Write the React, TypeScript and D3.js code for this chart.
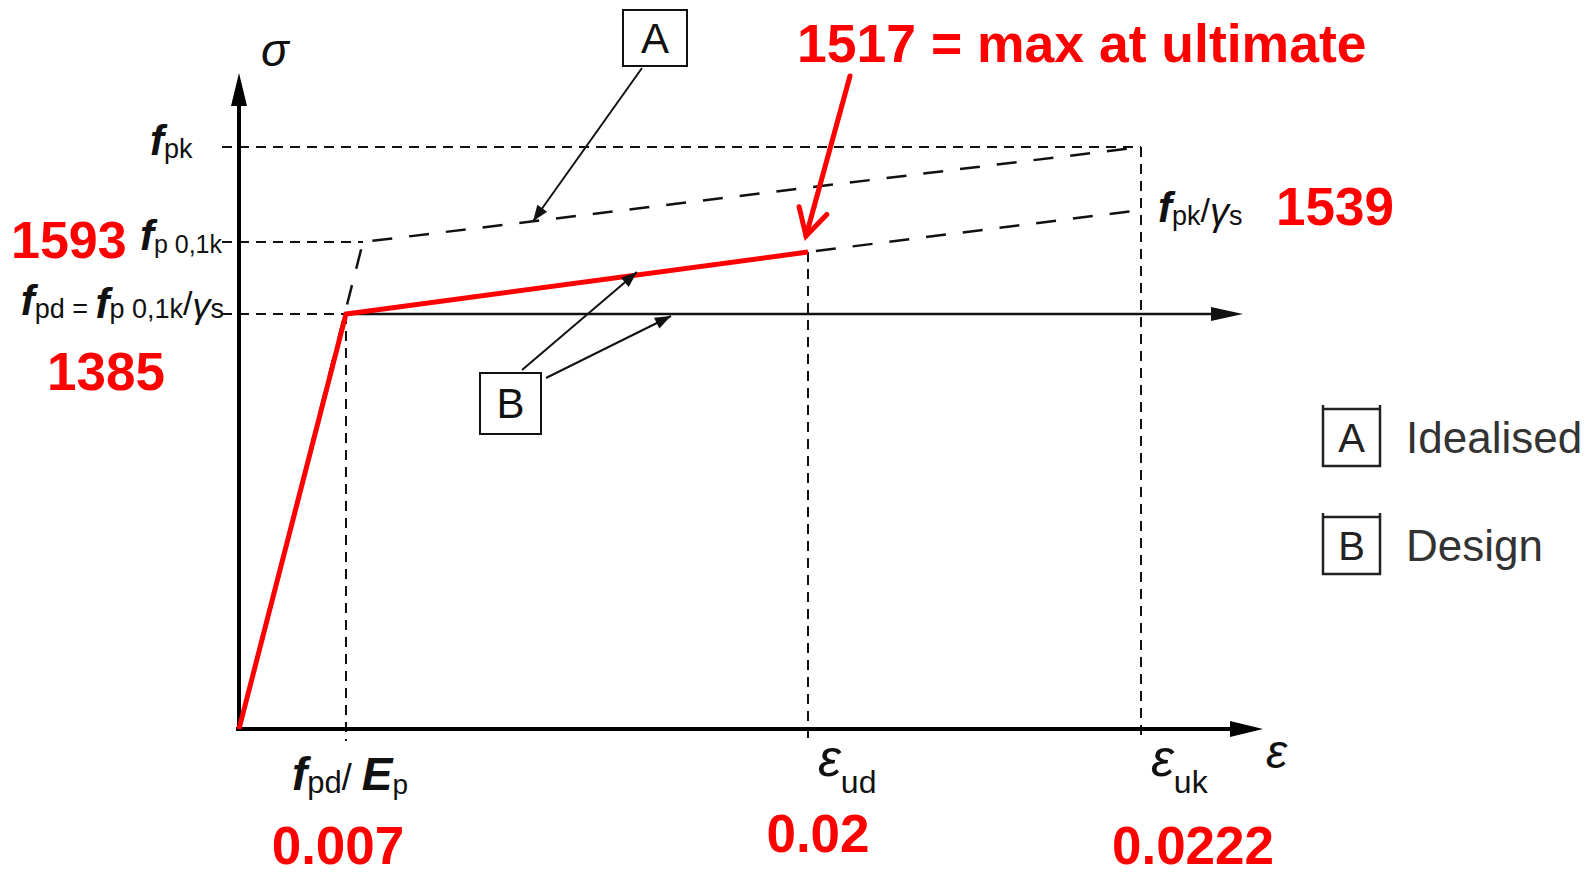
import React from 'react';
import * as d3 from 'd3';

// ---- data (schematic stress-strain diagram for prestressing steel) ----
// characteristic strains placed on the schematic strain axis
const strainKeys = [0, 0.007, 0.00817, 0.02, 0.0222];
// characteristic stresses (MPa) placed on the schematic stress axis
const stressKeys = [0, 1385, 1517, 1539, 1593, 1770];

// B – design curve (red, up to εud)
const designCurve: [number, number][] = [[0, 0], [0.007, 1385], [0.02, 1517]];
// B – inclined branch continued (dashed) to εuk at fpk/γs
const designInclinedExt: [number, number][] = [[0.02, 1517], [0.0222, 1539]];
// B – horizontal branch start (fpd)
const designHorizontalStart: [number, number] = [0.007, 1385];
// A – idealised curve (dashed)
const idealisedCurve: [number, number][] = [[0, 0], [0.00817, 1593], [0.0222, 1770]];

// dashed reference levels on the stress axis: [stress, strain where it ends]
const stressLevels: [number, number][] = [[1770, 0.0222], [1593, 0.00817], [1385, 0.007]];
// dashed reference strains: [strain, stress where it starts]
const strainLevels: [number, number][] = [[0.007, 1385], [0.02, 1517], [0.0222, 1770]];

// red value annotations
const strainValueLabels = ['0.007', '0.02', '0.0222'];
const strainValues = [0.007, 0.02, 0.0222];
const stressValueLabels = ['1593', '1385', '1539'];
const ultimateNote = '1517 = max at ultimate';

const legendKeys = ['A', 'B'];
const legendNames = ['Idealised', 'Design'];

const W = 1590;
const H = 875;
const SANS = 'Liberation Sans, Arial, Helvetica, sans-serif';

function arrowHead(x1: number, y1: number, x2: number, y2: number, len: number, half: number) {
  const a = Math.atan2(y2 - y1, x2 - x1);
  const bx = x2 - len * Math.cos(a);
  const by = y2 - len * Math.sin(a);
  const px = -Math.sin(a) * half;
  const py = Math.cos(a) * half;
  return `M${x2},${y2}L${bx + px},${by + py}L${bx - px},${by - py}Z`;
}

export default function App() {
  const x = d3.scaleLinear().domain(strainKeys).range([239, 346, 363, 808, 1141]);
  const y = d3.scaleLinear().domain(stressKeys).range([729, 314, 252, 210, 242, 147]);
  const line = d3.line<[number, number]>().x((d) => x(d[0])).y((d) => y(d[1]));

  const x0 = x(0);
  const y0 = y(0);
  const yTop = 73;
  const xEnd = 1263;
  const levelLeft = 222;

  // annotation arrows
  const aArrow = { x1: 642, y1: 68, x2: 533, y2: y(1593) + (y(1770) - y(1593)) * ((533 - x(0.00817)) / (x(0.0222) - x(0.00817))) };
  const b1 = { x1: 522, y1: 370, x2: 637, y2: 272 };
  const b2 = { x1: 546, y1: 378, x2: 671, y2: 316 };
  const red = { x1: 850, y1: 76, x2: x(0.02) - 2, y2: y(1517) - 16 };

  const redArrowA = Math.atan2(red.y2 - red.y1, red.x2 - red.x1);
  const armLen = 30;
  const arm1 = [red.x2 - armLen * Math.cos(redArrowA - 0.5), red.y2 - armLen * Math.sin(redArrowA - 0.5)];
  const arm2 = [red.x2 - armLen * Math.cos(redArrowA + 0.5), red.y2 - armLen * Math.sin(redArrowA + 0.5)];

  const subFont = 27;
  const fFont = 42;

  return (
    <svg width={W} height={H} style={{ position: 'absolute', left: 0, top: 0, background: '#fff' }} fontFamily={SANS}>
      <rect x={0} y={0} width={W} height={H} fill="#fff" />

      {/* dashed level lines */}
      {stressLevels.map(([s, e], i) => (
        <line key={'sl' + i} x1={levelLeft} x2={x(e)} y1={y(s)} y2={y(s)} stroke="#111" strokeWidth={2} strokeDasharray="10 7" />
      ))}
      {strainLevels.map(([e, s], i) => (
        <line key={'el' + i} x1={x(e)} x2={x(e)} y1={y(s)} y2={y0 + 12} stroke="#111" strokeWidth={2} strokeDasharray="10 7" />
      ))}

      {/* A idealised dashed */}
      <path d={line(idealisedCurve) || ''} fill="none" stroke="#111" strokeWidth={2.5} strokeDasharray="20 17" strokeDashoffset={6} />
      {/* B inclined continued dashed */}
      <path d={line(designInclinedExt) || ''} fill="none" stroke="#111" strokeWidth={2.5} strokeDasharray="20 17" strokeDashoffset={-8} />
      {/* B horizontal branch with arrow */}
      <line x1={x(designHorizontalStart[0])} y1={y(designHorizontalStart[1])} x2={1215} y2={y(designHorizontalStart[1])} stroke="#111" strokeWidth={2.5} />
      <path d={arrowHead(1000, y(1385), 1243, y(1385), 32, 7)} fill="#111" />
      {/* thin black under design inclined */}
      <path d={line(designCurve.slice(1)) || ''} fill="none" stroke="#111" strokeWidth={2} />

      {/* axes */}
      <line x1={x0} y1={y0 + 2} x2={x0} y2={yTop + 30} stroke="#000" strokeWidth={4} />
      <path d={arrowHead(x0, y0, x0, yTop, 33, 8)} fill="#000" />
      <line x1={x0 - 3} y1={y0} x2={xEnd - 28} y2={y0} stroke="#000" strokeWidth={4} />
      <path d={arrowHead(x0, y0, xEnd, y0, 33, 8)} fill="#000" />

      {/* red design curve */}
      <path d={line(designCurve) || ''} fill="none" stroke="#ff0000" strokeWidth={5} strokeLinejoin="miter" />

      {/* annotation A */}
      <rect x={623} y={10} width={64} height={56} fill="#fff" stroke="#111" strokeWidth={2} />
      <text x={655} y={53} fontSize={42} textAnchor="middle" fill="#111">A</text>
      <line x1={aArrow.x1} y1={aArrow.y1} x2={aArrow.x2} y2={aArrow.y2} stroke="#111" strokeWidth={2} />
      <path d={arrowHead(aArrow.x1, aArrow.y1, aArrow.x2, aArrow.y2, 16, 6)} fill="#111" />

      {/* annotation B */}
      <rect x={480} y={373} width={61} height={61} fill="#fff" stroke="#111" strokeWidth={2} />
      <text x={510.5} y={418} fontSize={42} textAnchor="middle" fill="#111">B</text>
      {[b1, b2].map((b, i) => (
        <g key={'b' + i}>
          <line x1={b.x1} y1={b.y1} x2={b.x2} y2={b.y2} stroke="#111" strokeWidth={2} />
          <path d={arrowHead(b.x1, b.y1, b.x2, b.y2, 16, 6)} fill="#111" />
        </g>
      ))}

      {/* red arrow */}
      <line x1={red.x1} y1={red.y1} x2={red.x2} y2={red.y2} stroke="#ff0000" strokeWidth={5} strokeLinecap="round" />
      <polyline points={`${arm1[0]},${arm1[1]} ${red.x2},${red.y2} ${arm2[0]},${arm2[1]}`} fill="none" stroke="#ff0000" strokeWidth={5} strokeLinecap="round" strokeLinejoin="miter" />

      {/* axis symbols */}
      <text x={261} y={66} fontSize={46} fontStyle="italic" fill="#111">σ</text>
      <text x={1266} y={768} fontSize={48} fontStyle="italic" fill="#111">ε</text>

      {/* stress level labels */}
      <text x={150} y={y(1770) + 8} fill="#111">
        <tspan fontSize={fFont} fontStyle="italic" fontWeight="bold">f</tspan>
        <tspan fontSize={subFont} dy={3}>pk</tspan>
      </text>
      <text x={222} y={y(1593) + 8} fill="#111" textAnchor="end">
        <tspan fontSize={fFont} fontStyle="italic" fontWeight="bold">f</tspan>
        <tspan fontSize={25} dy={3}>p 0,1k</tspan>
      </text>
      <text x={224} y={y(1385) + 1} fill="#111" textAnchor="end">
        <tspan fontSize={fFont} fontStyle="italic" fontWeight="bold">f</tspan>
        <tspan fontSize={subFont} dy={3}>pd</tspan>
        <tspan fontSize={subFont}> = </tspan>
        <tspan fontSize={fFont} fontStyle="italic" fontWeight="bold">f</tspan>
        <tspan fontSize={subFont}>p 0,1k</tspan>
        <tspan fontSize={34} dy={-3}>/</tspan>
        <tspan fontSize={36} fontStyle="italic" dy={3}>γ</tspan>
        <tspan fontSize={subFont}>s</tspan>
      </text>
      <text x={1158} y={y(1539) + 12} fill="#111">
        <tspan fontSize={fFont} fontStyle="italic" fontWeight="bold">f</tspan>
        <tspan fontSize={subFont} dy={3}>pk</tspan>
        <tspan fontSize={34} dy={-3}>/</tspan>
        <tspan fontSize={38} fontStyle="italic" dy={3}>γ</tspan>
        <tspan fontSize={subFont}>s</tspan>
      </text>

      {/* strain labels */}
      <text x={x(0.007) - 54} y={790} fill="#111">
        <tspan fontSize={46} fontStyle="italic" fontWeight="bold">f</tspan>
        <tspan fontSize={31} dy={3}>pd</tspan>
        <tspan fontSize={36} dy={-3}>/ </tspan>
        <tspan fontSize={46} fontStyle="italic" fontWeight="bold">E</tspan>
        <tspan fontSize={28} dy={4}>p</tspan>
      </text>
      <text x={x(0.02) + 10} y={776} fill="#111">
        <tspan fontSize={52} fontStyle="italic">ε</tspan>
        <tspan fontSize={32} dy={17}>ud</tspan>
      </text>
      <text x={x(0.0222) + 10} y={776} fill="#111">
        <tspan fontSize={52} fontStyle="italic">ε</tspan>
        <tspan fontSize={32} dy={17}>uk</tspan>
      </text>

      {/* red value labels */}
      <g fill="#ff0000" fontWeight="bold" fontSize={53}>
        <text x={11} y={258} fontSize={52}>{stressValueLabels[0]}</text>
        <text x={47} y={390}>{stressValueLabels[1]}</text>
        <text x={1276} y={225}>{stressValueLabels[2]}</text>
        {strainValues.map((v, i) => (
          <text key={'sv' + i} x={x(v) + [-8, 10, 52][i]} y={[864, 852, 864][i]} textAnchor="middle">{strainValueLabels[i]}</text>
        ))}
        <text x={797} y={62} fontSize={53.5}>{ultimateNote}</text>
      </g>

      {/* legend */}
      {legendKeys.map((k, i) => {
        const top = 409 + i * 108;
        return (
          <g key={'lg' + i}>
            <path d={`M1323,${top - 4}V${top + 57}H1380V${top - 4}M1323,${top}H1380`} fill="none" stroke="#222" strokeWidth={2.5} />
            <text x={1351.5} y={top + 43} fontSize={40} textAnchor="middle" fill="#222">{k}</text>
            <text x={1406} y={top + 44} fontSize={44} fill="#333">{legendNames[i]}</text>
          </g>
        );
      })}
    </svg>
  );
}
